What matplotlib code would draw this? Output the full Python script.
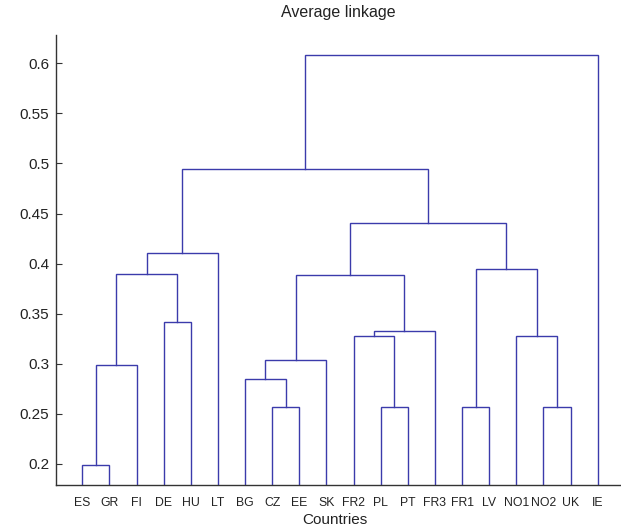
import matplotlib
matplotlib.use("Agg")
import matplotlib.pyplot as plt

# leaf labels in dendrogram order
leaves = ["ES", "GR", "FI", "DE", "HU", "LT", "BG", "CZ", "EE", "SK",
          "FR2", "PL", "PT", "FR3", "FR1", "LV", "NO1", "NO2", "UK", "IE"]

# merges: (child a, child b, height); ids < 20 are leaves, 20+ are earlier merges
merge_a = [0, 20, 3, 21, 23, 7, 6, 26, 11, 10, 29, 27, 14, 17, 16, 32, 31, 24, 37]
merge_b = [1, 2, 4, 22, 5, 8, 25, 9, 12, 28, 13, 30, 15, 18, 33, 34, 35, 36, 19]
merge_h = [0.199, 0.299, 0.342, 0.390, 0.411, 0.257, 0.285, 0.304, 0.257, 0.328,
           0.333, 0.389, 0.257, 0.257, 0.328, 0.395, 0.441, 0.495, 0.608]

yticks = [0.2, 0.25, 0.3, 0.35, 0.4, 0.45, 0.5, 0.55, 0.6]

line_col = "#3b3bab"
axis_col = "#333333"
plt.rcParams["font.family"] = ["Liberation Sans", "DejaVu Sans"]

fig = plt.figure(figsize=(6.21, 5.28), dpi=100)
ax = fig.add_axes([56 / 621, 43 / 528, 1 - 56 / 621, 450 / 528])

# node positions / heights
xpos = {i: i + 1 for i in range(len(leaves))}
ypos = {i: 0.0 for i in range(len(leaves))}
for k, (a, b, h) in enumerate(zip(merge_a, merge_b, merge_h)):
    node = len(leaves) + k
    xa, xb = xpos[a], xpos[b]
    ax.plot([xa, xa, xb, xb], [ypos[a], h, h, ypos[b]],
            color=line_col, lw=1.0, solid_joinstyle="miter")
    xpos[node] = (xa + xb) / 2
    ypos[node] = h

ax.set_xlim(0.03, 20.86)
ax.set_ylim(0.179, 0.6283)
ax.set_yticks(yticks)
ax.set_yticklabels([f"{t:g}" for t in yticks], fontsize=11, color="#222222")
ax.set_xticks(range(1, len(leaves) + 1))
ax.set_xticklabels(leaves, fontsize=8.8, color="#222222")
ax.tick_params(axis="y", direction="in", length=4, width=0.8, color=axis_col, pad=5)
ax.tick_params(axis="x", length=0, pad=9)

for s in ["top", "right"]:
    ax.spines[s].set_visible(False)
for s in ["left", "bottom"]:
    ax.spines[s].set_color(axis_col)
    ax.spines[s].set_linewidth(1.0)

fig.text(338 / 621, 1 - 13 / 528, "Average linkage", ha="center", va="center",
         fontsize=11.5, color="#222222")
fig.text(335 / 621, 1 - 520 / 528, "Countries", ha="center", va="center",
         fontsize=11, color="#222222")

fig.savefig("out.png", dpi=100)
